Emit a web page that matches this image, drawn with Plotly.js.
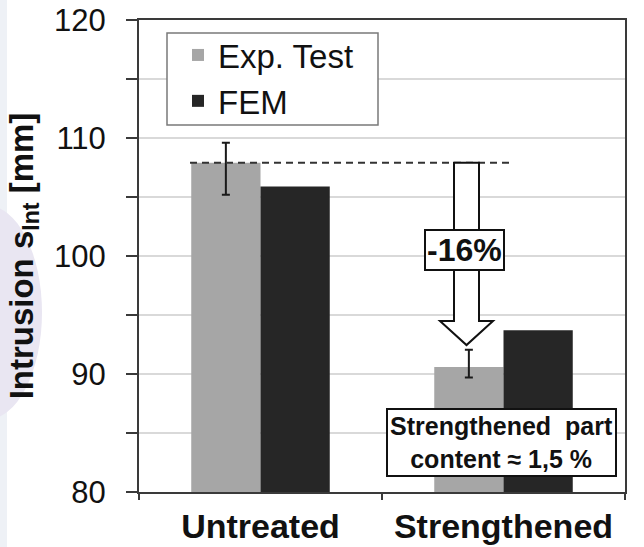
<!DOCTYPE html>
<html>
<head>
<meta charset="utf-8">
<script src="https://cdn.plot.ly/plotly-3.0.1.min.js"></script>
<style>html,body{margin:0;padding:0;background:#fff;}#chart{width:644px;height:547px;}</style>
</head>
<body>
<div id="chart"></div>
<script>
// ---- data ----
const categories = ['Untreated', 'Strengthened'];
const expTest = [107.9, 90.6];
const expErrPlus = [1.7, 1.45];
const expErrMinus = [2.7, 0.9];
const fem = [105.9, 93.7];
const yTickVals = [80, 90, 100, 110, 120];
const seriesNames = ['Exp. Test', 'FEM'];

const F = 'Liberation Sans, Arial, sans-serif';
const axisCol = '#3a3a3a';
const gridCol = '#d9d9d9';

// pixel -> paper helpers (plot area 139..625 x, 20..492 y)
const PL = 139, PW = 486, PT = 20, PH = 472;
const px = v => (v - PL) / PW;
const py = v => 1 - (v - PT) / PH;

const traces = [
  {
    type: 'bar', name: seriesNames[0], x: categories, y: expTest,
    marker: {color: '#a6a6a6'},
    error_y: {type: 'data', symmetric: false, array: expErrPlus, arrayminus: expErrMinus,
              color: '#1a1a1a', thickness: 2, width: 4},
    hoverinfo: 'skip'
  },
  {
    type: 'bar', name: seriesNames[1], x: categories, y: fem,
    marker: {color: '#262626'},
    hoverinfo: 'skip'
  }
];

// arrow geometry
const arrowTop = expTest[0];
const arrowTip = expTest[1] + expErrPlus[1] + 0.4;
const headStart = arrowTip + 2.05;
const cx = px(466.5), sh = 12.5 / PW, hh = 26.5 / PW;
const arrowPath = `M${cx - sh},${arrowTop} L${cx + sh},${arrowTop} L${cx + sh},${headStart} L${cx + hh},${headStart} L${cx},${arrowTip} L${cx - hh},${headStart} L${cx - sh},${headStart} Z`;

const layout = {
  width: 644, height: 547,
  margin: {l: PL, r: 644 - PL - PW, t: PT, b: 547 - PT - PH, pad: 0, autoexpand: false},
  paper_bgcolor: '#ffffff', plot_bgcolor: '#ffffff',
  font: {family: F, color: '#111'},
  barmode: 'group', bargap: 0.43, bargroupgap: 0,
  showlegend: true,
  legend: {x: px(178), y: py(27), xanchor: 'left', yanchor: 'top',
           bgcolor: 'rgba(0,0,0,0)', borderwidth: 0,
           font: {family: F, size: 33, color: '#111'}},
  xaxis: {
    type: 'category', categoryarray: categories, categoryorder: 'array',
    showline: true, linecolor: axisCol, linewidth: 2, mirror: true,
    ticks: 'outside', tickson: 'boundaries', ticklen: 6, tickwidth: 1.5, tickcolor: axisCol,
    tickfont: {family: F, size: 34, weight: 'bold', color: '#111'},
    ticklabelstandoff: 3,
    showgrid: false, zeroline: false, fixedrange: true
  },
  yaxis: {
    range: [80, 120], tickvals: yTickVals, ticktext: yTickVals.map(String),
    showline: true, linecolor: axisCol, linewidth: 2, mirror: true,
    ticks: 'outside', ticklen: 11, tickwidth: 1.5, tickcolor: axisCol,
    showgrid: true, gridcolor: gridCol, gridwidth: 2, zeroline: false,
    minor: {dtick: 5, tick0: 80, ticks: 'outside', ticklen: 11, tickwidth: 1.5, tickcolor: axisCol,
            showgrid: true, gridcolor: gridCol, gridwidth: 2},
    tickfont: {family: F, size: 31, color: '#111'},
    ticklabelstandoff: 14,
    title: {text: 'Intrusion s<sub>Int</sub> [mm]', font: {family: F, size: 33, weight: 'bold', color: '#111'}, standoff: 11},
    fixedrange: true
  },
  shapes: [
    // page background artefacts on the left
    {type: 'rect', xref: 'paper', yref: 'paper', x0: px(0), x1: px(7), y0: py(547), y1: py(0),
     fillcolor: '#eef1f6', line: {width: 0}, layer: 'below'},
    {type: 'circle', xref: 'paper', yref: 'paper', x0: px(-70), x1: px(42), y0: py(420), y1: py(205),
     fillcolor: '#e9e6f2', line: {width: 0}, layer: 'below'},
    // legend frame
    {type: 'rect', xref: 'paper', yref: 'paper', x0: px(167), x1: px(378), y0: py(125), y1: py(33),
     fillcolor: '#ffffff', line: {color: '#7a7a7a', width: 1.5}, layer: 'above'},
    // dashed reference line
    {type: 'line', xref: 'paper', yref: 'y', x0: px(190), x1: px(512), y0: expTest[0], y1: expTest[0],
     line: {color: '#333', width: 2, dash: '7px,5px'}, layer: 'above'},
    // block arrow
    {type: 'path', xref: 'paper', yref: 'y', path: arrowPath,
     fillcolor: '#ffffff', line: {color: '#111', width: 2}, layer: 'above'}
  ],
  annotations: [
    {xref: 'paper', yref: 'paper', x: px(464), y: py(250), xanchor: 'center', yanchor: 'middle',
     text: '-16%', showarrow: false,
     font: {family: F, size: 32, weight: 'bold', color: '#111'},
     bgcolor: '#ffffff', bordercolor: '#111', borderwidth: 2, borderpad: 1},
    {xref: 'paper', yref: 'paper', x: px(501), y: py(442), xanchor: 'center', yanchor: 'middle',
     text: 'Strengthened\u00a0 part<br>content \u2248 1,5 %', showarrow: false,
     font: {family: F, size: 25, weight: 'bold', color: '#111'},
     bgcolor: '#ffffff', bordercolor: '#111', borderwidth: 2, borderpad: 2}
  ]
};

Plotly.newPlot('chart', traces, layout, {displayModeBar: false, staticPlot: true});
</script>
</body>
</html>
